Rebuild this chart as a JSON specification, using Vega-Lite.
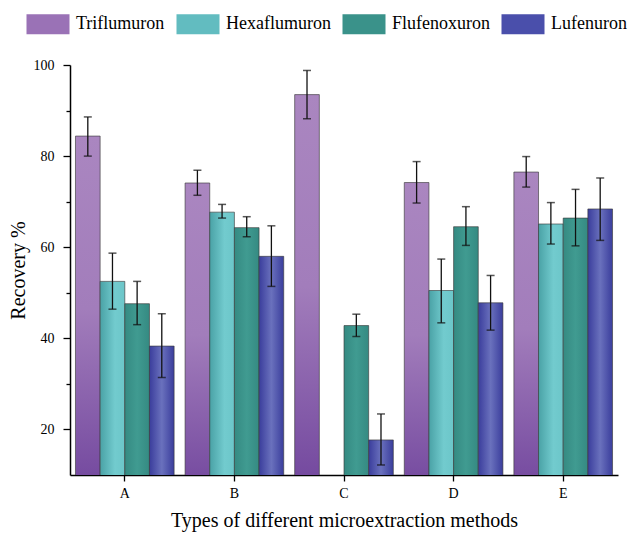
{
  "$schema": "https://vega.github.io/schema/vega-lite/v6.json",
  "autosize": {"type": "none"},
  "padding": {"left": 70, "top": 65, "right": 18, "bottom": 58},
  "width": 548,
  "height": 410,
  "config": {
    "view": {"stroke": null},
    "font": "Times New Roman, Liberation Serif, serif",
    "axis": {"labelFont": "Times New Roman, Liberation Serif, serif", "titleFont": "Times New Roman, Liberation Serif, serif", "labelColor": "#000", "titleColor": "#000", "domainColor": "#000", "tickColor": "#000", "domainWidth": 1.5, "tickWidth": 1.3, "grid": false, "titleFontWeight": "normal"},
    "legend": {"labelFont": "Times New Roman, Liberation Serif, serif"}
  },
  "data": {
    "values": [
      {"method": "A", "compound": "Triflumuron", "recovery": 84.4, "lo": 80.0, "hi": 88.6},
      {"method": "A", "compound": "Hexaflumuron", "recovery": 52.5, "lo": 46.4, "hi": 58.7},
      {"method": "A", "compound": "Flufenoxuron", "recovery": 47.6, "lo": 43.0, "hi": 52.5},
      {"method": "A", "compound": "Lufenuron", "recovery": 38.3, "lo": 31.4, "hi": 45.4},
      {"method": "B", "compound": "Triflumuron", "recovery": 74.1, "lo": 71.4, "hi": 76.9},
      {"method": "B", "compound": "Hexaflumuron", "recovery": 67.7, "lo": 66.4, "hi": 69.4},
      {"method": "B", "compound": "Flufenoxuron", "recovery": 64.3, "lo": 62.3, "hi": 66.7},
      {"method": "B", "compound": "Lufenuron", "recovery": 58.0, "lo": 51.4, "hi": 64.7},
      {"method": "C", "compound": "Triflumuron", "recovery": 93.5, "lo": 88.2, "hi": 98.8},
      {"method": "C", "compound": "Flufenoxuron", "recovery": 42.8, "lo": 40.4, "hi": 45.3},
      {"method": "C", "compound": "Lufenuron", "recovery": 17.7, "lo": 12.2, "hi": 23.4},
      {"method": "D", "compound": "Triflumuron", "recovery": 74.2, "lo": 69.7, "hi": 78.8},
      {"method": "D", "compound": "Hexaflumuron", "recovery": 50.5, "lo": 43.4, "hi": 57.4},
      {"method": "D", "compound": "Flufenoxuron", "recovery": 64.5, "lo": 60.4, "hi": 68.9},
      {"method": "D", "compound": "Lufenuron", "recovery": 47.8, "lo": 41.8, "hi": 53.8},
      {"method": "E", "compound": "Triflumuron", "recovery": 76.5, "lo": 73.2, "hi": 79.9},
      {"method": "E", "compound": "Hexaflumuron", "recovery": 65.1, "lo": 60.7, "hi": 69.8},
      {"method": "E", "compound": "Flufenoxuron", "recovery": 66.4, "lo": 60.3, "hi": 72.7},
      {"method": "E", "compound": "Lufenuron", "recovery": 68.4, "lo": 61.5, "hi": 75.2}
    ]
  },
  "encoding": {
    "x": {
      "field": "method", "type": "nominal",
      "scale": {"paddingInner": 0.1, "paddingOuter": 0.05},
      "axis": {"title": "Types of different microextraction methods", "titleFontSize": 20, "labelFontSize": 14, "labelAngle": 0, "tickSize": 6, "labelPadding": 5, "titlePadding": 10}
    },
    "xOffset": {"field": "compound", "type": "nominal", "scale": {"domain": ["Triflumuron", "Hexaflumuron", "Flufenoxuron", "Lufenuron"], "paddingInner": 0, "paddingOuter": 0}}
  },
  "layer": [
    {
      "mark": {"type": "bar", "stroke": "#3a3a3a", "strokeWidth": 0.8, "strokeOpacity": 0.8, "clip": true},
      "encoding": {
        "y": {
          "field": "recovery", "type": "quantitative",
          "scale": {"domain": [10, 100], "nice": false, "zero": false},
          "axis": {
            "title": "Recovery %", "titleFontSize": 20, "labelFontSize": 14,
            "values": [20, 30, 40, 50, 60, 70, 80, 90, 100],
            "labelExpr": "datum.value % 20 == 0 ? datum.label : ''",
            "tickSize": {"condition": {"test": "datum.value % 20 == 0", "value": 7}, "value": 4},
            "labelPadding": 9, "titlePadding": 5
          }
        },
        "fill": {
          "field": "compound", "type": "nominal",
          "condition": [
            {"test": "datum.compound == 'Triflumuron'", "value": {"gradient": "linear", "x1": 0, "y1": 0, "x2": 0, "y2": 1, "stops": [{"offset": 0, "color": "#aa86c0"}, {"offset": 0.45, "color": "#a27dbb"}, {"offset": 1, "color": "#6a3e99"}]}},
            {"test": "datum.compound == 'Hexaflumuron'", "value": {"gradient": "linear", "x1": 0, "y1": 0, "x2": 1, "y2": 0, "stops": [{"offset": 0, "color": "#4aa2a6"}, {"offset": 0.6, "color": "#72cbce"}, {"offset": 1, "color": "#6cc6c9"}]}},
            {"test": "datum.compound == 'Flufenoxuron'", "value": {"gradient": "linear", "x1": 0, "y1": 0, "x2": 1, "y2": 0, "stops": [{"offset": 0, "color": "#358a82"}, {"offset": 0.5, "color": "#409b91"}, {"offset": 1, "color": "#358a82"}]}},
            {"test": "datum.compound == 'Lufenuron'", "value": {"gradient": "linear", "x1": 0, "y1": 0, "x2": 1, "y2": 0, "stops": [{"offset": 0, "color": "#3a3d9c"}, {"offset": 0.5, "color": "#6a71bd"}, {"offset": 1, "color": "#3a3d9c"}]}}
          ],
          "scale": {
            "domain": ["Triflumuron", "Hexaflumuron", "Flufenoxuron", "Lufenuron"],
            "range": ["#9a72b6", "#62bcc0", "#3a928a", "#4a4fab"]
          },
          "legend": {
            "title": null, "orient": "none", "direction": "horizontal",
            "legendX": -44, "legendY": -63,
            "symbolType": "M-1,-0.465H1V0.465H-1Z", "symbolSize": 1849,
            "symbolStrokeColor": "#555", "symbolStrokeWidth": 0.8,
            "labelFont": "Times New Roman, Liberation Serif, serif",
            "labelFontSize": 18, "labelColor": "#000", "labelOffset": 6, "columnPadding": 9,
            "encode": {
              "symbols": {
                "update": {
                  "fill": {"signal": "datum.value == 'Triflumuron' ? {gradient: 'linear', x1: 0, y1: 1, x2: 1, y2: 0, stops: [{offset: 0, color: '#b08fc6'}, {offset: 0.5, color: '#8a62b0'}, {offset: 1, color: '#6a3e99'}]} : datum.value == 'Hexaflumuron' ? {gradient: 'linear', x1: 0, y1: 0, x2: 1, y2: 0, stops: [{offset: 0, color: '#4aa2a6'}, {offset: 1, color: '#7bd3d6'}]} : datum.value == 'Flufenoxuron' ? {gradient: 'linear', x1: 0, y1: 0, x2: 1, y2: 0, stops: [{offset: 0, color: '#358a82'}, {offset: 0.5, color: '#409b91'}, {offset: 1, color: '#358a82'}]} : {gradient: 'linear', x1: 0, y1: 0, x2: 1, y2: 0, stops: [{offset: 0, color: '#3a3d9c'}, {offset: 0.5, color: '#6a71bd'}, {offset: 1, color: '#3a3d9c'}]}"}
                }
              }
            }
          }
        }
      }
    },
    {
      "mark": {"type": "rule", "color": "#111", "strokeWidth": 1.3},
      "encoding": {
        "y": {"field": "lo", "type": "quantitative"},
        "y2": {"field": "hi"}
      }
    },
    {
      "mark": {"type": "tick", "color": "#111", "thickness": 1.5, "size": 8},
      "encoding": {"y": {"field": "lo", "type": "quantitative"}}
    },
    {
      "mark": {"type": "tick", "color": "#111", "thickness": 1.5, "size": 8},
      "encoding": {"y": {"field": "hi", "type": "quantitative"}}
    }
  ]
}
